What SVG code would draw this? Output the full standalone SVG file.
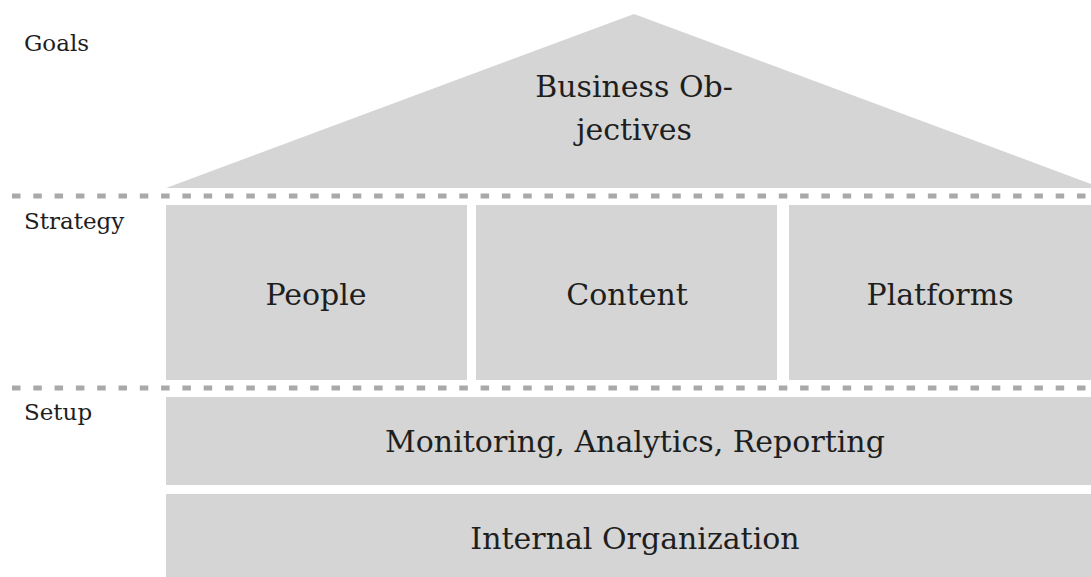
<svg xmlns="http://www.w3.org/2000/svg" width="1091" height="577" viewBox="0 0 1091 577">
<style>
.box{fill:#d4d5d4}
.t{font-family:"DejaVu Serif","Liberation Serif",serif;fill:#1e1e1e;text-anchor:middle;font-size:30px}
.lbl{font-family:"DejaVu Serif","Liberation Serif",serif;fill:#1e1e1e;font-size:23px}
.dash{stroke:#a9a9a9;stroke-width:5;stroke-dasharray:8.5 12.8;fill:none}
</style>
<rect width="1091" height="577" fill="#ffffff"/>
<g id="labels">
<text class="lbl" x="24" y="51">Goals</text>
<text class="lbl" x="24" y="229">Strategy</text>
<text class="lbl" x="24" y="420">Setup</text>
</g>
<g id="connectors">
<line class="dash" x1="12" y1="196" x2="1091" y2="196"/>
<line class="dash" x1="12" y1="388" x2="1091" y2="388"/>
</g>
<g id="goals">
<polygon class="box" points="634,14 1102,188 166,188"/>
<text class="t" x="634" y="97">Business Ob-</text>
<text class="t" x="634" y="140">jectives</text>
</g>
<g id="people">
<rect class="box" x="166" y="205" width="301" height="175"/>
<text class="t" x="316" y="305">People</text>
</g>
<g id="content">
<rect class="box" x="476" y="205" width="301" height="175"/>
<text class="t" x="627" y="305">Content</text>
</g>
<g id="platforms">
<rect class="box" x="789" y="205" width="302" height="175"/>
<text class="t" x="940" y="305">Platforms</text>
</g>
<g id="monitoring">
<rect class="box" x="166" y="397" width="925" height="88"/>
<text class="t" x="635" y="452">Monitoring, Analytics, Reporting</text>
</g>
<g id="internal">
<rect class="box" x="166" y="494" width="925" height="83"/>
<text class="t" x="635" y="549">Internal Organization</text>
</g>
</svg>
